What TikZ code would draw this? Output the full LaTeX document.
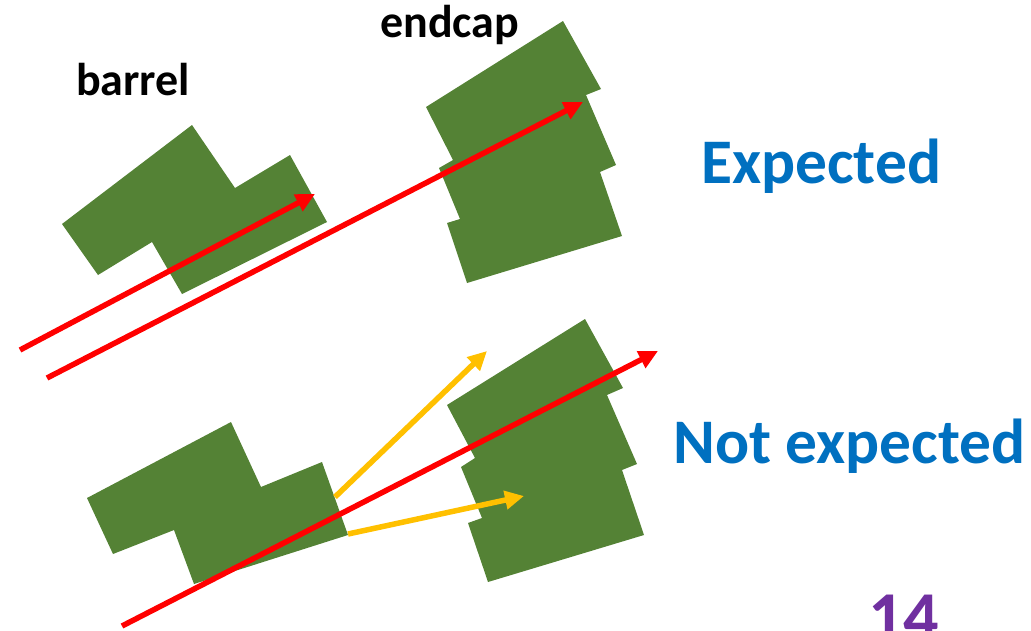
\documentclass[tikz,border=0pt]{standalone}
\usepackage{fontspec}
\setmainfont{Carlito}
\usetikzlibrary{arrows.meta}
\definecolor{leaf}{RGB}{84,130,53}
\definecolor{ray}{RGB}{255,0,0}
\definecolor{amber}{RGB}{255,192,0}
\definecolor{hdblue}{RGB}{0,112,192}
\definecolor{pagenum}{RGB}{112,48,160}
\tikzset{
  module/.style={fill=leaf, draw=none},
  track/.style={draw=ray, line width=5.5pt, -{Triangle[length=19pt,width=18pt]}},
  scatter/.style={draw=amber, line width=5.5pt, -{Triangle[length=19pt,width=18pt]}},
  lbl/.style={inner sep=0pt, anchor=base west, font=\bfseries}
}
\begin{document}
\begin{tikzpicture}[x=1pt,y=-1pt]
\useasboundingbox (0,0) rectangle (1031,630);
\clip (0,0) rectangle (1031,630);
% top barrel
\fill[module] (192,125) -- (235,188) -- (290,155) -- (327,222) -- (182,294) -- (152,242) -- (98,275) -- (62,224) -- cycle;
% top endcap
\fill[module] (426,107) -- (563,21) -- (601,89) -- (586,95) -- (616,165) -- (600,172) -- (622,236) -- (467,283) -- (447,223) -- (460,219) -- (439,168) -- (453,160) -- cycle;
% bottom barrel
\fill[module] (231,422) -- (261,487) -- (322,462) -- (348,535) -- (194,584) -- (174,530) -- (113,554) -- (87,498) -- cycle;
% bottom endcap
\fill[module] (447,405) -- (585,319) -- (623,388) -- (607,395) -- (637,464) -- (622,470) -- (644,535) -- (488,582) -- (468,523) -- (482,518) -- (461,467) -- (475,458) -- cycle;
% coordinates
\coordinate (a1s) at (20,350);
\coordinate (a1e) at (315,194);
\coordinate (a2s) at (47,378);
\coordinate (a2e) at (583,102);
\coordinate (a3s) at (122,626);
\coordinate (a3e) at (658,351);
\coordinate (y1s) at (335,497);
\coordinate (y1e) at (487,351);
\coordinate (y2s) at (348,534);
\coordinate (y2e) at (524,496);
\draw[scatter] (y1s) -- (y1e);
\draw[scatter] (y2s) -- (y2e);
\draw[track] (a1s) -- (a1e);
\draw[track] (a2s) -- (a2e);
\draw[track] (a3s) -- (a3e);
% labels
\node[lbl, font=\bfseries\fontsize{46}{46}\selectfont] (barrel) at (76,95) {barrel};
\node[lbl, font=\bfseries\fontsize{46}{46}\selectfont] (endcap) at (380,37) {endcap};
\node[lbl, text=hdblue, font=\bfseries\fontsize{63.5}{63.5}\selectfont] (exp) at (701,183) {Expected};
\node[lbl, text=hdblue, font=\bfseries\fontsize{63.5}{63.5}\selectfont] (nexp) at (673,463) {Not expected};
\node[lbl, text=pagenum, font=\bfseries\fontsize{70}{70}\selectfont] (pg) at (868,640) {14};
\end{tikzpicture}
\end{document}
